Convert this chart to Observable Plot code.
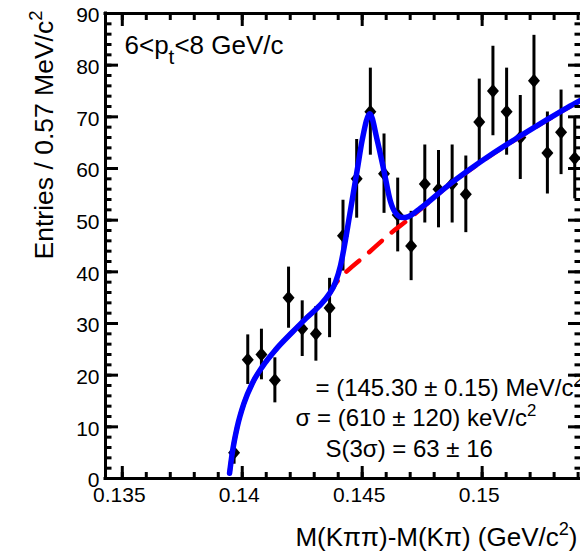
<!DOCTYPE html>
<html><head><meta charset="utf-8">
<script src="https://cdn.jsdelivr.net/npm/d3@7"></script>
<script src="https://cdn.jsdelivr.net/npm/@observablehq/plot@0.6"></script>
<style>
body{margin:0;background:#fff;}
#chart svg{display:block;}
</style>
</head><body><div id="chart"></div>
<script>
// ---- data ----
const binCenters = [0.13966,0.14023,0.14080,0.14136,0.14193,0.14250,0.14307,0.14364,0.14420,0.14477,
                    0.14534,0.14591,0.14648,0.14704,0.14761,0.14818,0.14875,0.14932,0.14988,0.15045,
                    0.15102,0.15159,0.15216,0.15272,0.15329,0.15386];
const counts = [5,23,24,19,35,29,28,33,47,58,71,59,51,45,57,56,57,55,69,75,71,66,77,63,67,62];

// total fit (blue)
const fitX = [0.139471,0.139583,0.139792,0.140067,0.140417,0.140833,0.141388,0.142083,0.142638,0.143192,
              0.143608,0.143888,0.144096,0.144304,0.144442,0.144583,0.144792,0.145000,0.145317,0.145625,
              0.145900,0.146179,0.146388,0.146679,0.146929,0.147429,0.148554,0.149388,0.150471,0.151596,
              0.152721,0.153554,0.154096];
const fitY = [1.0,4.9,10.0,14.5,18.4,21.6,24.9,28.3,30.9,33.3,
              35.6,38.0,41.2,46.2,50.0,53.9,59.7,65.5,70.6,65.5,
              59.7,53.6,51.4,50.5,50.7,52.3,56.6,59.5,63.0,66.3,
              69.5,71.8,73.2];

// background (red dashed)
const bgX = [0.139471,0.139583,0.139792,0.140067,0.140417,0.140833,0.141388,0.142083,0.142638,0.143192,
             0.143608,0.143888,0.14413,0.14522,0.14622,0.14689,0.14743,0.14855,0.14939,0.15047,
             0.15160,0.15272,0.15355,0.15410];
const bgY = [1.0,4.9,10.0,14.5,18.4,21.6,24.9,28.3,30.9,33.3,
             35.5,37.7,39.0,43.5,47.6,50.0,52.1,56.5,59.4,62.9,
             66.2,69.4,71.7,73.1];

const xTicks = [0.135,0.14,0.145,0.15];
const xTickLabels = ["0.135","0.14","0.145","0.15"];
const xMinorTicks = d3.range(0.135,0.1545,0.001);
const yTicks = [0,10,20,30,40,50,60,70,80,90];
const yTickLabels = ["0","10","20","30","40","50","60","70","80","90"];
const yMinorTicks = d3.range(0,91,2);

const xTitle = "M(Kππ)-M(Kπ) (GeV/c^{2})";
const yTitle = "Entries / 0.57 MeV/c^{2}";
const ptLabel = "6<p_{t}<8 GeV/c";
const fitLines = ["= (145.30 ± 0.15) MeV/c^{2}", "σ = (610 ± 120) keV/c^{2}", "S(3σ) = 63 ± 16"];

// ---- build ----
const pts = binCenters.map((x,i)=>({x, n:counts[i]}));
const fit = fitX.map((x,i)=>({x, y:fitY[i]}));
const bg = bgX.map((x,i)=>({x, y:bgY[i]}));

const diamond = {draw(ctx){ ctx.moveTo(0,-7); ctx.lineTo(6,0); ctx.lineTo(0,7); ctx.lineTo(-6,0); ctx.closePath(); }};
const font = "'Liberation Sans', Arial, Helvetica, sans-serif";

const chart = Plot.plot({
  width:580, height:552,
  marginLeft:105, marginRight:0, marginTop:13, marginBottom:74,
  style:{fontFamily:font, background:"white", color:"black"},
  x:{domain:[0.1343,0.1541], axis:null},
  y:{domain:[0,90], axis:null},
  marks:[
    Plot.ruleX(pts,{x:"x", y1:d=>d.n-Math.sqrt(d.n), y2:d=>d.n+Math.sqrt(d.n), stroke:"black", strokeWidth:3}),
    Plot.dot(pts,{x:"x", y:"n", symbol:diamond, fill:"black", stroke:"none"}),
    Plot.line(bg,{x:"x", y:"y", stroke:"#ff0000", strokeWidth:4.5, strokeDasharray:"17,13", curve:"monotone-x", clip:true}),
    Plot.line(fit,{x:"x", y:"y", stroke:"#0000ff", strokeWidth:5.5, curve:"monotone-x", clip:true}),
    // frame (left, top, bottom)
    Plot.ruleY([0],{stroke:"black", strokeWidth:3, strokeLinecap:"square"}),
    Plot.ruleY([90],{stroke:"black", strokeWidth:3, strokeLinecap:"square"}),
    Plot.ruleX([0.1343],{stroke:"black", strokeWidth:3, strokeLinecap:"square"}),
    // inward ticks
    Plot.axisX(xMinorTicks,{anchor:"bottom", tickSize:-6, strokeWidth:3, fill:"none", label:null}),
    Plot.axisX(xTicks,{anchor:"bottom", tickSize:-12, strokeWidth:3, fill:"none", label:null}),
    Plot.axisX(xMinorTicks,{anchor:"top", tickSize:-6, strokeWidth:3, fill:"none", label:null}),
    Plot.axisX(xTicks,{anchor:"top", tickSize:-12, strokeWidth:3, fill:"none", label:null}),
    Plot.axisY(yMinorTicks,{anchor:"left", tickSize:-6.5, strokeWidth:3, fill:"none", label:null}),
    Plot.axisY(yTicks,{anchor:"left", tickSize:-13, strokeWidth:3, fill:"none", label:null}),
    Plot.axisY(yMinorTicks,{anchor:"right", tickSize:-6.5, strokeWidth:3, fill:"none", label:null}),
    Plot.axisY(yTicks,{anchor:"right", tickSize:-13, strokeWidth:3, fill:"none", label:null}),
    // tick labels
    Plot.axisX(xTicks,{anchor:"bottom", tickSize:0, tickPadding:9, dx:-3, fontSize:21, fill:"black",
      tickFormat:d=>xTickLabels[xTicks.indexOf(d)], label:null}),
    Plot.axisY(yTicks,{anchor:"left", tickSize:0, tickPadding:6, dy:2, fontSize:21, fill:"black",
      tickFormat:d=>yTickLabels[yTicks.indexOf(d)], label:null}),
    // titles
    Plot.text([xTitle],{text:d=>d, frameAnchor:"bottom-right", textAnchor:"end", lineAnchor:"bottom", dx:-3, dy:67, fontSize:26, fill:"black"}),
    Plot.text([yTitle],{text:d=>d, frameAnchor:"top-left", textAnchor:"end", lineAnchor:"bottom", rotate:-90, dx:-53, dy:-3, fontSize:26.5, fill:"black"}),
    // annotations
    Plot.text([ptLabel],{text:d=>d, frameAnchor:"top-left", textAnchor:"start", lineAnchor:"bottom", dx:19, dy:40, fontSize:26, fill:"black"}),
    Plot.text([fitLines[0]],{text:d=>d, frameAnchor:"bottom-left", textAnchor:"start", lineAnchor:"bottom", dx:210, dy:-83, fontSize:24, fill:"black"}),
    Plot.text([fitLines[1]],{text:d=>d, frameAnchor:"bottom-left", textAnchor:"start", lineAnchor:"bottom", dx:190, dy:-53, fontSize:24, fill:"black"}),
    Plot.text([fitLines[2]],{text:d=>d, frameAnchor:"bottom-left", textAnchor:"start", lineAnchor:"bottom", dx:220, dy:-22, fontSize:24, fill:"black"})
  ]
});
document.getElementById("chart").appendChild(chart);

// rich text: ^{..} superscript, _{..} subscript
(function richify(svg){
  const ns = "http://www.w3.org/2000/svg";
  svg.querySelectorAll("text").forEach(t=>{
    const s = t.textContent;
    if(!/[\^_]\{/.test(s)) return;
    const fs = parseFloat(getComputedStyle(t).fontSize) || 20;
    t.textContent = "";
    const re = /([\^_])\{([^}]*)\}/g;
    let last = 0, m;
    let pending = 0;
    const add = (txt, opts) => {
      const ts = document.createElementNS(ns,"tspan");
      ts.textContent = txt;
      for (const k in opts) ts.setAttribute(k, opts[k]);
      t.appendChild(ts);
    };
    while((m = re.exec(s))){
      if(m.index > last){ add(s.slice(last, m.index), pending ? {dy: pending} : {}); pending = 0; }
      const sup = m[1] === "^";
      const shift = sup ? -0.40*fs : 0.42*fs;
      add(m[2], {"font-size": (sup ? 0.7 : 0.8)*fs, dy: shift + pending});
      pending = -shift;
      last = re.lastIndex;
    }
    if(last < s.length) add(s.slice(last), pending ? {dy: pending} : {});
  });
})(chart);
</script>
</body></html>
